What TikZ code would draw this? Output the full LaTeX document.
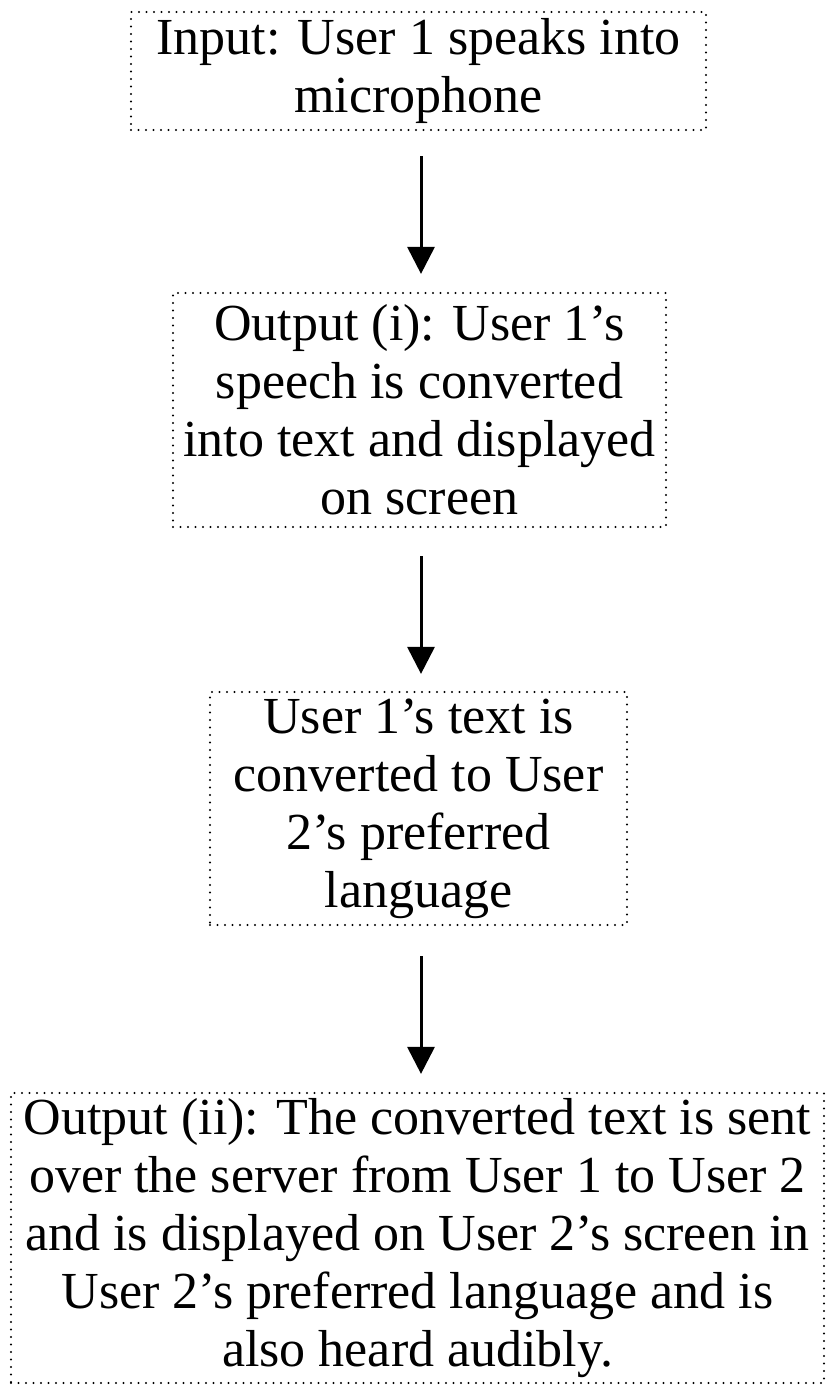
\documentclass[tikz,border=0pt]{standalone}
\usepackage{fontspec}
\setmainfont{Liberation Serif}
\usetikzlibrary{arrows.meta}
\begin{document}
\begin{tikzpicture}[x=1pt,y=1pt,
  stepbox/.style={draw=black, line width=2.2pt, dash pattern=on 0pt off 7.5pt, line cap=round,
    align=center, inner sep=0pt, font=\fontsize{52}{58}\selectfont, text=black},
  flow/.style={line width=3pt, -{Triangle[width=27pt,length=27pt]}}]
\useasboundingbox (0,0) rectangle (826,-1385);
\fill[white] (0,0) rectangle (826,-1385);
\coordinate (ax) at (421,0);
\node[stepbox, minimum width=575pt, minimum height=118pt] (b1) at (418.5,-71)
  {Input: User 1 speaks into\\microphone};
\node[stepbox, minimum width=493pt, minimum height=234pt] (b2) at (419.5,-410)
  {Output (i): User 1’s\\speech is converted\\into text and displayed\\on screen};
\node[stepbox, minimum width=417pt, minimum height=233pt] (b3) at (418.5,-808.5)
  {User 1’s text is\\converted to User\\2’s preferred\\language};
\node[stepbox, minimum width=813pt, minimum height=290pt] (b4) at (417.5,-1238)
  {Output (ii): The converted text is sent\\over the server from User 1 to User 2\\and is displayed on User 2’s screen in\\User 2’s preferred language and is\\also heard audibly.};
\draw[flow, shorten <=25pt, shorten >=18pt] (b1.south -| ax) -- (b2.north -| ax);
\draw[flow, shorten <=28pt, shorten >=17pt] (b2.south -| ax) -- (b3.north -| ax);
\draw[flow, shorten <=30pt, shorten >=18pt] (b3.south -| ax) -- (b4.north -| ax);
\end{tikzpicture}
\end{document}
